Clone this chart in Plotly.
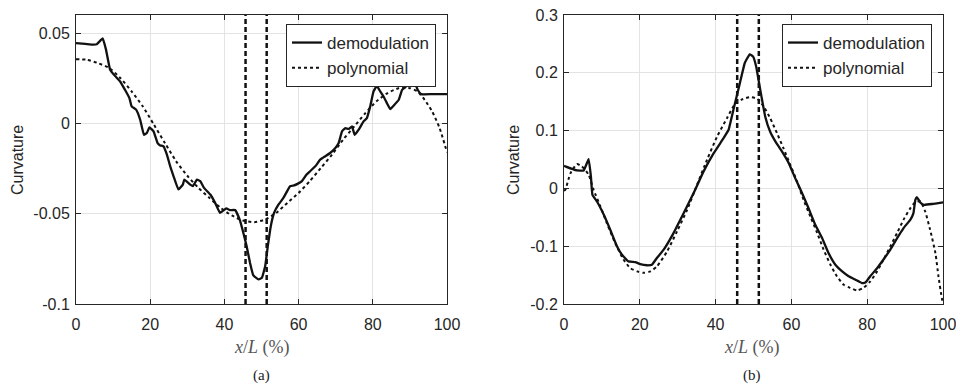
import plotly.graph_objects as go

# ---------------- data ----------------
# (a) demodulation
xa_demod = [0, 2.5, 4.7, 5.6, 7.2, 8.1, 9.2, 10.5, 11.9, 13.2, 14.4, 15.0, 16.2, 17.3, 18.3, 19.1, 19.8,
            20.9, 22.0, 22.7, 23.6, 24.5, 25.4, 26.3, 27.6, 28.8, 29.2, 30.8, 31.5, 32.6, 33.5, 34.5,
            36.2, 37.5, 38.8, 40.5, 41.5, 42.9, 44.1, 45.1, 46.0, 46.9, 47.8, 49.2, 50.1, 51.0, 51.7,
            52.5, 53.4, 54.6, 55.9, 57.7, 58.8, 59.7, 60.9, 62.1, 63.1, 64.5, 65.8, 67.2, 68.5, 69.9,
            70.8, 71.7, 72.6, 73.5, 74.4, 75.1, 76.2, 77.5, 78.4, 79.3, 80.2, 81.1, 82.0, 82.9, 83.8,
            84.7, 85.6, 87.0, 87.9, 88.8, 89.7, 90.3, 91.2, 92.1, 93.0, 96.0, 100]
ya_demod = [0.0444, 0.0440, 0.0436, 0.0438, 0.0470, 0.0407, 0.0297, 0.0263, 0.0232, 0.0186, 0.0140,
            0.0094, 0.0076, 0.0020, -0.0063, -0.0053, -0.0022, -0.0044, -0.0109, -0.0122, -0.0127,
            -0.0173, -0.0238, -0.0293, -0.0366, -0.0339, -0.0311, -0.0339, -0.0348, -0.0311, -0.0320,
            -0.0357, -0.0394, -0.0440, -0.0495, -0.0471, -0.0480, -0.0480, -0.0532, -0.0606, -0.0680,
            -0.0772, -0.0842, -0.0864, -0.0855, -0.0790, -0.0680, -0.0569, -0.0495, -0.0449, -0.0413,
            -0.0348, -0.0343, -0.0335, -0.0320, -0.0284, -0.0265, -0.0238, -0.0201, -0.0182, -0.0164,
            -0.0136, -0.0109, -0.0044, -0.0026, -0.0031, -0.0017, -0.0063, -0.0035, 0.0011, 0.0029,
            0.0094, 0.0177, 0.0208, 0.0177, 0.0149, 0.0112, 0.0079, 0.0098, 0.0131, 0.0186, 0.0201,
            0.0241, 0.0256, 0.0232, 0.0186, 0.0162, 0.0162, 0.0162]

# (a) polynomial
xa_poly = [0, 3, 6, 9, 12, 15, 18, 21, 24, 27, 30, 33, 36, 39, 42, 45, 48, 51, 54, 57, 60, 63, 66,
           69, 72, 75, 78, 81, 84, 87, 90, 92, 94, 96, 98, 100]
ya_poly = [0.0355, 0.0352, 0.0333, 0.0306, 0.0250, 0.0177, 0.0094, -0.0007, -0.0110, -0.0210,
           -0.0290, -0.0357, -0.0413, -0.0468, -0.0510, -0.0538, -0.0547, -0.0532, -0.0495, -0.0440,
           -0.0385, -0.0320, -0.0247, -0.0173, -0.0090, -0.0017, 0.0057, 0.0122, 0.0168, 0.0195,
           0.0195, 0.0177, 0.0130, 0.0066, -0.0026, -0.0160]

# (b) demodulation
xb_demod = [0, 0.34, 3.4, 5.2, 6.5, 7.1, 7.5, 8.7, 10.5, 12.2, 14.0, 15.3, 17.0, 18.8, 20.1, 21.9,
            23.2, 24.5, 26.3, 28.9, 31.6, 34.2, 36.8, 39.5, 42.1, 43.4, 44.7, 46.4, 47.7, 49.0, 49.9,
            50.7, 51.8, 53.1, 54.4, 55.8, 57.5, 59.3, 61.0, 62.8, 64.5, 66.3, 68.1, 69.8, 71.6, 73.4,
            75.1, 76.9, 78.6, 79.5, 80.8, 82.6, 84.3, 86.1, 87.9, 89.6, 91.4, 92.2, 92.7, 93.1, 94.0,
            94.9, 97.1, 100]
yb_demod = [0.039, 0.038, 0.031, 0.031, 0.0506, 0.0206, -0.011, -0.0226, -0.0456, -0.0715, -0.1004,
            -0.1147, -0.1263, -0.1274, -0.131, -0.133, -0.132, -0.1205, -0.106, -0.0773, -0.0427,
            -0.0081, 0.029, 0.061, 0.087, 0.101, 0.136, 0.182, 0.217, 0.232, 0.228, 0.211, 0.170,
            0.124, 0.098, 0.081, 0.064, 0.0437, 0.0178, -0.0081, -0.034, -0.063, -0.086, -0.112,
            -0.132, -0.1436, -0.152, -0.158, -0.1637, -0.163, -0.152, -0.138, -0.123, -0.106, -0.086,
            -0.0686, -0.054, -0.0427, -0.0197, -0.015, -0.0243, -0.0283, -0.027, -0.024]

# (b) polynomial
xb_poly = [0, 0.34, 1.7, 3.4, 4.7, 6.5, 7.8, 9.6, 11.3, 13.5, 15.7, 17.5, 19.3, 21.0, 22.8, 24.5,
           27.2, 29.8, 32.5, 35.1, 37.7, 40.4, 43.0, 45.2, 47.0, 49.0, 51.0, 52.7, 54.4, 56.2, 57.9,
           59.7, 61.5, 63.2, 65.0, 66.8, 68.5, 70.3, 72.0, 73.8, 75.5, 77.3, 79.0, 80.8, 82.6, 84.3,
           86.1, 87.9, 89.6, 91.4, 92.7, 94.0, 95.3, 96.6, 98.0, 98.8, 99.7, 100]
yb_poly = [-0.004, -0.0024, 0.026, 0.042, 0.038, 0.0235, -0.0024, -0.031, -0.060, -0.0945, -0.123,
           -0.138, -0.1436, -0.146, -0.1436, -0.135, -0.109, -0.0745, -0.037, 0.0062, 0.049, 0.0897,
           0.1215, 0.147, 0.154, 0.158, 0.155, 0.1415, 0.1215, 0.0955, 0.0696, 0.0408, 0.0119,
           -0.0197, -0.0486, -0.077, -0.106, -0.132, -0.152, -0.1666, -0.172, -0.1764, -0.172, -0.161,
           -0.1436, -0.123, -0.1004, -0.077, -0.054, -0.034, -0.024, -0.0226, -0.040, -0.0715, -0.112,
           -0.152, -0.190, -0.198]

# vertical dashed markers (x/L %)
v_lines = [45.7, 51.4]

x_ticks = [0, 20, 40, 60, 80, 100]
x_ticktext = ["0", "20", "40", "60", "80", "100"]
ya_ticks = [-0.1, -0.05, 0, 0.05]
ya_ticktext = ["-0.1", "-0.05", "0", "0.05"]
yb_ticks = [-0.2, -0.1, 0, 0.1, 0.2, 0.3]
yb_ticktext = ["-0.2", "-0.1", "0", "0.1", "0.2", "0.3"]

series_names = ["demodulation", "polynomial"]
y_title = "Curvature"
x_title = "<i>x</i>/<i>L</i> (%)"
panel_labels = ["(a)", "(b)"]

# ---------------- figure ----------------
W, H = 956, 384
SANS = "Arial"
SERIF = "Times New Roman"
TXT = "#262626"
LINE = "#111111"

fig = go.Figure()

fig.add_trace(go.Scatter(x=xa_demod, y=ya_demod, mode="lines", name=series_names[0],
                         line=dict(color=LINE, width=2.3, shape="spline", smoothing=0.3),
                         xaxis="x", yaxis="y", legend="legend"))
fig.add_trace(go.Scatter(x=xa_poly, y=ya_poly, mode="lines", name=series_names[1],
                         line=dict(color=LINE, width=2, dash="dot", shape="spline", smoothing=0.6),
                         xaxis="x", yaxis="y", legend="legend"))
fig.add_trace(go.Scatter(x=xb_demod, y=yb_demod, mode="lines", name=series_names[0],
                         line=dict(color=LINE, width=2.3, shape="spline", smoothing=0.3),
                         xaxis="x2", yaxis="y2", legend="legend2"))
fig.add_trace(go.Scatter(x=xb_poly, y=yb_poly, mode="lines", name=series_names[1],
                         line=dict(color=LINE, width=2, dash="dot", shape="spline", smoothing=0.6),
                         xaxis="x2", yaxis="y2", legend="legend2"))

for xr, yr in (("x", "y"), ("x2", "y2")):
    for v in v_lines:
        fig.add_shape(type="line", xref=xr, yref=yr + " domain", x0=v, x1=v, y0=0, y1=1,
                      line=dict(color=LINE, width=2.5, dash="5px,3px"), layer="above")

ydom = [1 - 304 / H, 1 - 15 / H]
common_axis = dict(showline=True, linecolor=TXT, linewidth=1, mirror="ticks", ticks="inside",
                   ticklen=5, tickcolor=TXT, showgrid=True, gridcolor="#e3e3e3", gridwidth=1,
                   zeroline=False, automargin=False, ticklabeloverflow="allow",
                   tickfont=dict(family=SANS, size=16, color=TXT))

fig.update_layout(
    width=W, height=H, margin=dict(l=0, r=0, t=0, b=0, autoexpand=False),
    paper_bgcolor="white", plot_bgcolor="white",
    font=dict(family=SANS, color=TXT),
    xaxis=dict(domain=[76 / W, 447 / W], range=[0, 100], anchor="y",
               tickvals=x_ticks, ticktext=x_ticktext, ticklabelstandoff=6, **common_axis),
    yaxis=dict(domain=ydom, range=[-0.1, 0.06], anchor="x",
               tickvals=ya_ticks, ticktext=ya_ticktext, ticklabelstandoff=2, **common_axis),
    xaxis2=dict(domain=[564 / W, 943 / W], range=[0, 100], anchor="y2",
                tickvals=x_ticks, ticktext=x_ticktext, ticklabelstandoff=6, **common_axis),
    yaxis2=dict(domain=ydom, range=[-0.2, 0.3], anchor="x2",
                tickvals=yb_ticks, ticktext=yb_ticktext, ticklabelstandoff=2, **common_axis),
    legend=dict(x=436 / W, y=1 - 24 / H, xanchor="right", yanchor="top",
                bgcolor="white", bordercolor=TXT, borderwidth=1,
                font=dict(family=SANS, size=17, color=TXT), tracegroupgap=0),
    legend2=dict(x=932 / W, y=1 - 24 / H, xanchor="right", yanchor="top",
                 bgcolor="white", bordercolor=TXT, borderwidth=1,
                 font=dict(family=SANS, size=17, color=TXT), tracegroupgap=0),
    showlegend=True,
)

annotations = []
for cx, ylab_x, lab in ((261.5 / W, 17 / W, panel_labels[0]), (752 / W, 513 / W, panel_labels[1])):
    annotations.append(dict(x=cx, y=1 - 347 / H, xref="paper", yref="paper", text=x_title,
                            showarrow=False, font=dict(family=SERIF, size=18, color="#555555"),
                            xanchor="center", yanchor="middle"))
    annotations.append(dict(x=cx, y=1 - 375 / H, xref="paper", yref="paper", text=lab,
                            showarrow=False, font=dict(family=SERIF, size=15, color="#222222"),
                            xanchor="center", yanchor="middle"))
    annotations.append(dict(x=ylab_x, y=1 - 160 / H, xref="paper", yref="paper", text=y_title,
                            showarrow=False, textangle=-90,
                            font=dict(family=SANS, size=16, color=TXT),
                            xanchor="center", yanchor="middle"))
fig.update_layout(annotations=annotations)

fig.write_html("out.html")
